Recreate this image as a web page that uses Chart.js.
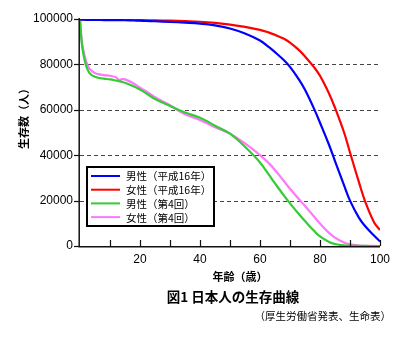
<!DOCTYPE html>
<html>
<head>
<meta charset="utf-8">
<script src="https://cdn.jsdelivr.net/npm/chart.js@4.4.1/dist/chart.umd.min.js"></script>
<style>
html,body{margin:0;padding:0;background:#fff;}
#wrap{position:relative;width:406px;height:338px;}
</style>
</head>
<body>
<div id="wrap"><canvas id="c" width="406" height="338"></canvas></div>
<script>
// ---- data ----
const ages = [0,0.5,1,2,3,4,5,6,8,10,12,13,14,15,18,20,22,25,30,35,40,45,50,55,60,63,65,68,70,73,75,78,80,83,85,88,90,93,95,98,100];
const male2004 = [100000,99800,99700,99650,99620,99600,99580,99560,99540,99520,99500,99490,99480,99460,99350,99250,99150,99000,98700,98400,98000,97200,95800,93600,90500,87600,85400,81800,78900,73300,68800,60500,54300,44600,37400,26800,20000,12400,8800,4600,2000];
const female2004 = [100000,99800,99750,99720,99700,99690,99680,99670,99650,99640,99620,99610,99600,99590,99550,99500,99460,99400,99250,99050,98800,98300,97500,96500,95200,94000,93000,91300,89600,86300,83500,78800,75000,67200,60900,50100,41200,28000,19800,10500,7000];
const male4th = [100000,90500,85500,79500,76500,75200,74600,74100,73700,73400,72900,72600,72300,71900,70300,68900,67300,64800,61700,58800,56500,53000,49500,43700,36800,31300,27600,22200,18800,14000,11000,6700,4200,1800,900,250,120,40,15,5,0];
const female4th = [100000,91500,87000,81500,78400,77000,76200,75700,75300,75000,74300,73100,73500,73400,71500,69700,68200,65500,62000,58000,55500,52300,49500,45200,40000,36400,33500,28500,25200,20600,17600,13000,9900,5800,3700,1500,700,200,80,20,0];
const seriesLabels = ['男性（平成16年）','女性（平成16年）','男性（第4回）','女性（第4回）'];
const seriesColors = ['#0000ff','#ff0000','#33cc33','#ff77ff'];
const yTickValues = [0,20000,40000,60000,80000,100000];
const xLabelValues = [20,40,60,80,100];
const xMinorTicks = [10,20,30,40,50,60,70,80,90,100];
const yTitle = '生存数（人）';
const xTitle = '年齢（歳）';
const chartTitle = '図1 日本人の生存曲線';
const chartSource = '（厚生労働省発表、生命表）';

const FONT = '"Liberation Sans", Arial, "Noto Sans CJK JP", sans-serif';
const CJK = '"Noto Sans CJK JP", "Liberation Sans", sans-serif';

const seriesValues = [male2004, female2004, male4th, female4th];
const datasets = seriesValues.map((vals, i) => ({
  label: seriesLabels[i],
  data: ages.map((a, j) => ({x: a, y: vals[j]})),
  borderColor: seriesColors[i],
  borderWidth: 2.2,
  pointRadius: 0,
  fill: false,
  tension: 0.4
}));

const decor = {
  id: 'decor',
  beforeDatasetsDraw(chart) {
    const {ctx, chartArea: a, scales: {x, y}} = chart;
    ctx.save();
    ctx.strokeStyle = '#444';
    ctx.lineWidth = 1.2;
    ctx.setLineDash([4, 3]);
    yTickValues.forEach(v => {
      if (v === 0 || v === 100000) return;
      const py = Math.round(y.getPixelForValue(v)) + 0.5;
      ctx.beginPath(); ctx.moveTo(a.left, py); ctx.lineTo(a.right, py); ctx.stroke();
    });
    ctx.restore();
  },
  afterDatasetsDraw(chart) {
    const {ctx, chartArea: a, scales: {x, y}} = chart;
    ctx.save();
    ctx.strokeStyle = '#111';
    ctx.lineWidth = 1.5;
    const by = y.getPixelForValue(0);
    ctx.beginPath(); ctx.moveTo(a.left - 0.8, y.getPixelForValue(100000) - 1); ctx.lineTo(a.left - 0.8, by + 0.8); ctx.lineTo(a.right, by + 0.8); ctx.stroke();
    // y ticks outward
    ctx.lineWidth = 1.2;
    yTickValues.forEach(v => {
      const py = Math.round(y.getPixelForValue(v)) + 0.5;
      ctx.beginPath(); ctx.moveTo(a.left - 6, py); ctx.lineTo(a.left - 1, py); ctx.stroke();
    });
    // x ticks inward
    xMinorTicks.forEach(v => {
      const px = Math.round(x.getPixelForValue(v)) + 0.5;
      ctx.beginPath(); ctx.moveTo(px, by); ctx.lineTo(px, by - 6); ctx.stroke();
    });
    // legend
    const lx = 87, ly = 167, lw = 127, lh = 59;
    ctx.fillStyle = '#fff';
    ctx.fillRect(lx, ly, lw, lh);
    ctx.lineWidth = 2;
    ctx.strokeStyle = '#000';
    ctx.strokeRect(lx, ly, lw, lh);
    ctx.font = '10.5px ' + CJK;
    ctx.textBaseline = 'middle';
    ctx.textAlign = 'left';
    chart.data.datasets.forEach((ds, i) => {
      const ry = 176 + i * 13.7;
      ctx.strokeStyle = ds.borderColor;
      ctx.lineWidth = 2;
      ctx.beginPath(); ctx.moveTo(91, ry); ctx.lineTo(120, ry); ctx.stroke();
      ctx.fillStyle = '#000';
      ctx.fillText(ds.label, 126, ry + 0.5);
    });
    // titles
    ctx.fillStyle = '#000';
    ctx.textAlign = 'center';
    ctx.font = 'bold 11px ' + CJK;
    ctx.fillText(xTitle, 240, 277);
    ctx.save();
    ctx.translate(24, 116);
    ctx.rotate(-Math.PI / 2);
    ctx.fillText(yTitle, 0, 0);
    ctx.restore();
    ctx.font = 'bold 13.5px ' + CJK;
    ctx.fillText(chartTitle, 233, 297);
    ctx.font = '10.5px ' + CJK;
    ctx.textAlign = 'right';
    ctx.fillText(chartSource, 391, 316);
    ctx.restore();
  }
};

new Chart(document.getElementById('c'), {
  type: 'line',
  data: {datasets},
  options: {
    responsive: false,
    animation: false,
    layout: {padding: {top: 19, right: 26, left: 0, bottom: 0}},
    plugins: {legend: {display: false}, tooltip: {enabled: false}, title: {display: false}},
    scales: {
      x: {
        type: 'linear', min: 0, max: 100,
        grid: {display: false, drawTicks: false},
        border: {display: false},
        afterFit(s) { s.height = 92; },
        afterBuildTicks(s) { s.ticks = xLabelValues.map(v => ({value: v})); },
        ticks: {color: '#000', padding: 6, font: {size: 12, family: FONT}, maxRotation: 0}
      },
      y: {
        type: 'linear', min: 0, max: 100000,
        grid: {display: false, drawTicks: false},
        border: {display: false},
        afterFit(s) { s.width = 80; },
        afterBuildTicks(s) { s.ticks = yTickValues.map(v => ({value: v})); },
        ticks: {color: '#000', padding: 7, font: {size: 12, family: FONT}, callback: v => String(v)}
      }
    }
  },
  plugins: [decor]
});
</script>
</body>
</html>
